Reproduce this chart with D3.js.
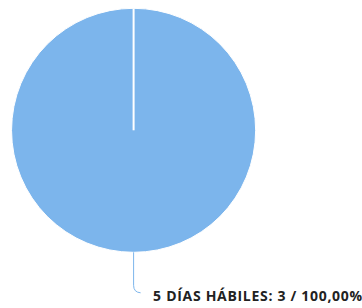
<!DOCTYPE html>
<html>
<head>
<meta charset="utf-8">
<script src="https://cdn.jsdelivr.net/npm/d3@7"></script>
<style>
html,body{margin:0;padding:0;background:#fff;}
svg{display:block;}
</style>
</head>
<body>
<svg id="chart" width="362" height="308"></svg>
<script>
const categories = ["5 DÍAS HÁBILES"];
const values = [3];
const colors = ["#7cb5ec"];

const W = 362, H = 308;
const cx = 133.6, cy = 130.3, R = 122;

const svg = d3.select("#chart");
const g = svg.append("g").attr("transform", `translate(${cx},${cy})`);

const pie = d3.pie().sort(null).value(d => d.value);
const data = pie(categories.map((c, i) => ({name: c, value: values[i], color: colors[i]})));
const arc = d3.arc().innerRadius(0).outerRadius(R);
const total = d3.sum(values);

g.selectAll("path.slice").data(data).enter().append("path")
  .attr("class", "slice")
  .attr("d", arc)
  .attr("fill", d => d.data.color)
  .attr("stroke", "#ffffff")
  .attr("stroke-width", 1)
  .attr("stroke-linejoin", "round");

// slice border edges (radial lines at start angle)
g.selectAll("line.edge").data(data).enter().append("line")
  .attr("class", "edge")
  .attr("x1", 0).attr("y1", 0)
  .attr("x2", d => R * Math.sin(d.startAngle))
  .attr("y2", d => -R * Math.cos(d.startAngle))
  .attr("stroke", "#ffffff")
  .attr("stroke-width", 2);

// data label with connector
const fmt = v => (v).toFixed(2).replace(".", ",");
data.forEach(d => {
  const mid = (d.startAngle + d.endAngle) / 2; // pi -> bottom
  const ax = R * Math.sin(mid), ay = -R * Math.cos(mid);
  const labelY = 171;
  const path = d3.path();
  path.moveTo(ax, ay);
  path.lineTo(ax, ay + 33);
  path.quadraticCurveTo(ax, ay + 40, ax + 7, ay + 40.5);
  g.append("path")
    .attr("d", path.toString())
    .attr("fill", "none")
    .attr("stroke", d.data.color)
    .attr("stroke-width", 1);
  g.append("text")
    .attr("x", ax + 19.5)
    .attr("y", labelY)
    .attr("font-family", "'Open Sans', sans-serif")
    .attr("font-weight", "bold")
    .attr("font-size", "14px")
    .attr("letter-spacing", "0.7px")
    .attr("fill", "#222")
    .text(`${d.data.name}: ${d.data.value} / ${fmt(d.data.value / total * 100)}%`);
});
</script>
</body>
</html>
